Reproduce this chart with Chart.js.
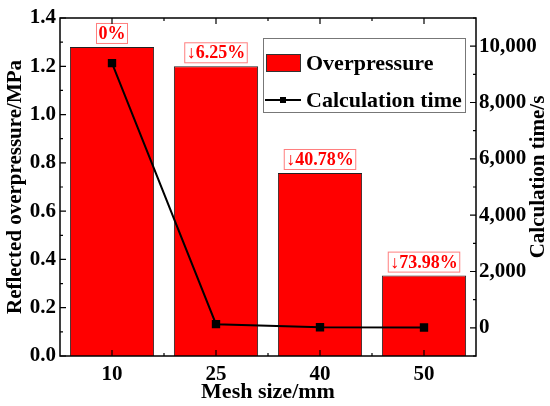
<!DOCTYPE html>
<html>
<head>
<meta charset="utf-8">
<script src="https://cdn.jsdelivr.net/npm/chart.js@4/dist/chart.umd.min.js"></script>
<style>
  html, body { margin: 0; padding: 0; background: #fff; }
  #wrap { width: 550px; height: 406px; }
</style>
</head>
<body>
<div id="wrap"><canvas id="chart" width="550" height="406"></canvas></div>
<script>
// Data
const meshSizes = ["10", "25", "40", "50"];
const overpressure = [1.28, 1.20, 0.758, 0.333];      // MPa
const calcTime = [9400, 130, 20, 10];                  // s
const reductionLabels = ["0%", "\u21936.25%", "\u219340.78%", "\u219373.98%"];
const leftTicks = [0, 0.2, 0.4, 0.6, 0.8, 1.0, 1.2, 1.4];
const rightTicks = [0, 2000, 4000, 6000, 8000, 10000];

const FONT = "'Liberation Serif', 'Times New Roman', serif";

// frame, inward ticks, bar labels, legend, right title
const decorations = {
  id: "decorations",
  afterDatasetsDraw(chart) {
    const { ctx, chartArea: a, scales } = chart;
    ctx.save();

    // percentage labels above bars
    const bars = chart.getDatasetMeta(0).data;
    ctx.font = "bold 18px " + FONT;
    ctx.textAlign = "center";
    ctx.textBaseline = "middle";
    bars.forEach((bar, i) => {
      const txt = reductionLabels[i];
      const w = ctx.measureText(txt).width + 5;
      const h = 21;
      const bottom = bar.y - 3;
      ctx.fillStyle = "#fff";
      ctx.fillRect(bar.x - w / 2, bottom - h, w, h);
      ctx.strokeStyle = "#ff7f7f";
      ctx.lineWidth = 1;
      ctx.strokeRect(bar.x - w / 2 + 0.5, bottom - h + 0.5, w - 1, h - 1);
      ctx.fillStyle = "#ff0000";
      ctx.fillText(txt, bar.x, bottom - h / 2 + 1);
    });

    // frame
    ctx.strokeStyle = "#000";
    ctx.lineWidth = 1.5;
    ctx.strokeRect(a.left, a.top, a.right - a.left, a.bottom - a.top);

    ctx.lineWidth = 1.2;
    ctx.beginPath();
    // left axis ticks
    const y = scales.y;
    for (let v = 0; v <= 1.4001; v += 0.1) {
      const py = y.getPixelForValue(v);
      const major = Math.round(v * 10) % 2 === 0;
      const len = major ? 6 : 3;
      ctx.moveTo(a.left, py); ctx.lineTo(a.left + len, py);
    }
    // right axis ticks
    const y1 = scales.y1;
    for (let v = -1000; v <= 11000; v += 1000) {
      const py = y1.getPixelForValue(v);
      const len = v % 2000 === 0 ? 6 : 3;
      ctx.moveTo(a.right, py); ctx.lineTo(a.right - len, py);
    }
    // x ticks (bottom and top)
    const x = scales.x;
    for (let i = 0; i < meshSizes.length; i++) {
      const px = x.getPixelForValue(i);
      ctx.moveTo(px, a.bottom); ctx.lineTo(px, a.bottom - 6);
      ctx.moveTo(px, a.top); ctx.lineTo(px, a.top + 6);
      if (i < meshSizes.length - 1) {
        const mx = x.getPixelForValue(i + 0.5);
        ctx.moveTo(mx, a.bottom); ctx.lineTo(mx, a.bottom - 3);
        ctx.moveTo(mx, a.top); ctx.lineTo(mx, a.top + 3);
      }
    }
    ctx.stroke();

    // legend
    const lx = 263, ly = 38, lw = 202, lh = 74;
    ctx.fillStyle = "#fff";
    ctx.fillRect(lx, ly, lw, lh);
    ctx.strokeStyle = "#777";
    ctx.lineWidth = 1;
    ctx.strokeRect(lx + 0.5, ly + 0.5, lw, lh);
    ctx.fillStyle = "#ff0000";
    ctx.fillRect(266, 54, 35, 18);
    ctx.strokeStyle = "#333";
    ctx.strokeRect(266.5, 54.5, 34, 17);
    ctx.strokeStyle = "#000";
    ctx.lineWidth = 2;
    ctx.beginPath();
    ctx.moveTo(265, 100); ctx.lineTo(301, 100);
    ctx.stroke();
    ctx.fillStyle = "#000";
    ctx.fillRect(280, 97, 6, 6);
    ctx.font = "bold 22px " + FONT;
    ctx.textAlign = "left";
    ctx.textBaseline = "middle";
    ctx.fillText("Overpressure", 306, 64);
    ctx.fillText("Calculation time", 306, 101);

    // right axis title, reading bottom to top
    ctx.translate(539, 177);
    ctx.rotate(-Math.PI / 2);
    ctx.font = "bold 21px " + FONT;
    ctx.textAlign = "center";
    ctx.fillText("Calculation time/s", 0, 0);

    ctx.restore();
  }
};

new Chart(document.getElementById("chart"), {
  data: {
    labels: meshSizes,
    datasets: [
      {
        type: "bar",
        label: "Overpressure",
        data: overpressure,
        yAxisID: "y",
        backgroundColor: "#ff0000",
        borderColor: "#222",
        borderWidth: 1,
        barPercentage: 0.81,
        categoryPercentage: 1,
        order: 2
      },
      {
        type: "line",
        label: "Calculation time",
        data: calcTime,
        yAxisID: "y1",
        borderColor: "#000",
        borderWidth: 2,
        pointStyle: "rect",
        pointRadius: 4.5,
        pointBackgroundColor: "#000",
        pointBorderColor: "#000",
        tension: 0,
        order: 1
      }
    ]
  },
  options: {
    responsive: false,
    animation: false,
    layout: { padding: { top: 18, left: 0, right: 0, bottom: 0 } },
    plugins: {
      legend: { display: false },
      tooltip: { enabled: false }
    },
    scales: {
      x: {
        type: "category",
        offset: true,
        grid: { display: false, drawTicks: false },
        border: { display: false },
        ticks: { color: "#000", font: { family: FONT, size: 21, weight: "bold" }, padding: 6 },
        title: {
          display: true, text: "Mesh size/mm", color: "#000",
          font: { family: FONT, size: 22, weight: "bold" }, padding: { top: 0, bottom: 0 }
        },
        afterFit: s => { s.height = 50; }
      },
      y: {
        position: "left",
        min: 0, max: 1.4,
        grid: { display: false, drawTicks: false },
        border: { display: false },
        afterBuildTicks: s => { s.ticks = leftTicks.map(v => ({ value: v })); },
        ticks: {
          color: "#000", padding: 4,
          font: { family: FONT, size: 21, weight: "bold" },
          callback: v => Number(v).toFixed(1)
        },
        title: {
          display: true, text: "Reflected overpressure/MPa", color: "#000",
          font: { family: FONT, size: 21, weight: "bold" }, padding: { top: 3, bottom: 0 }
        },
        afterFit: s => { s.width = 60; }
      },
      y1: {
        position: "right",
        min: -1000, max: 11000,
        grid: { display: false, drawTicks: false },
        border: { display: false },
        afterBuildTicks: s => { s.ticks = rightTicks.map(v => ({ value: v })); },
        ticks: {
          color: "#000", padding: 3,
          font: { family: FONT, size: 21, weight: "bold" },
          callback: v => Number(v).toLocaleString("en-US")
        },
        afterFit: s => { s.width = 74; }
      }
    }
  },
  plugins: [decorations]
});
</script>
</body>
</html>
